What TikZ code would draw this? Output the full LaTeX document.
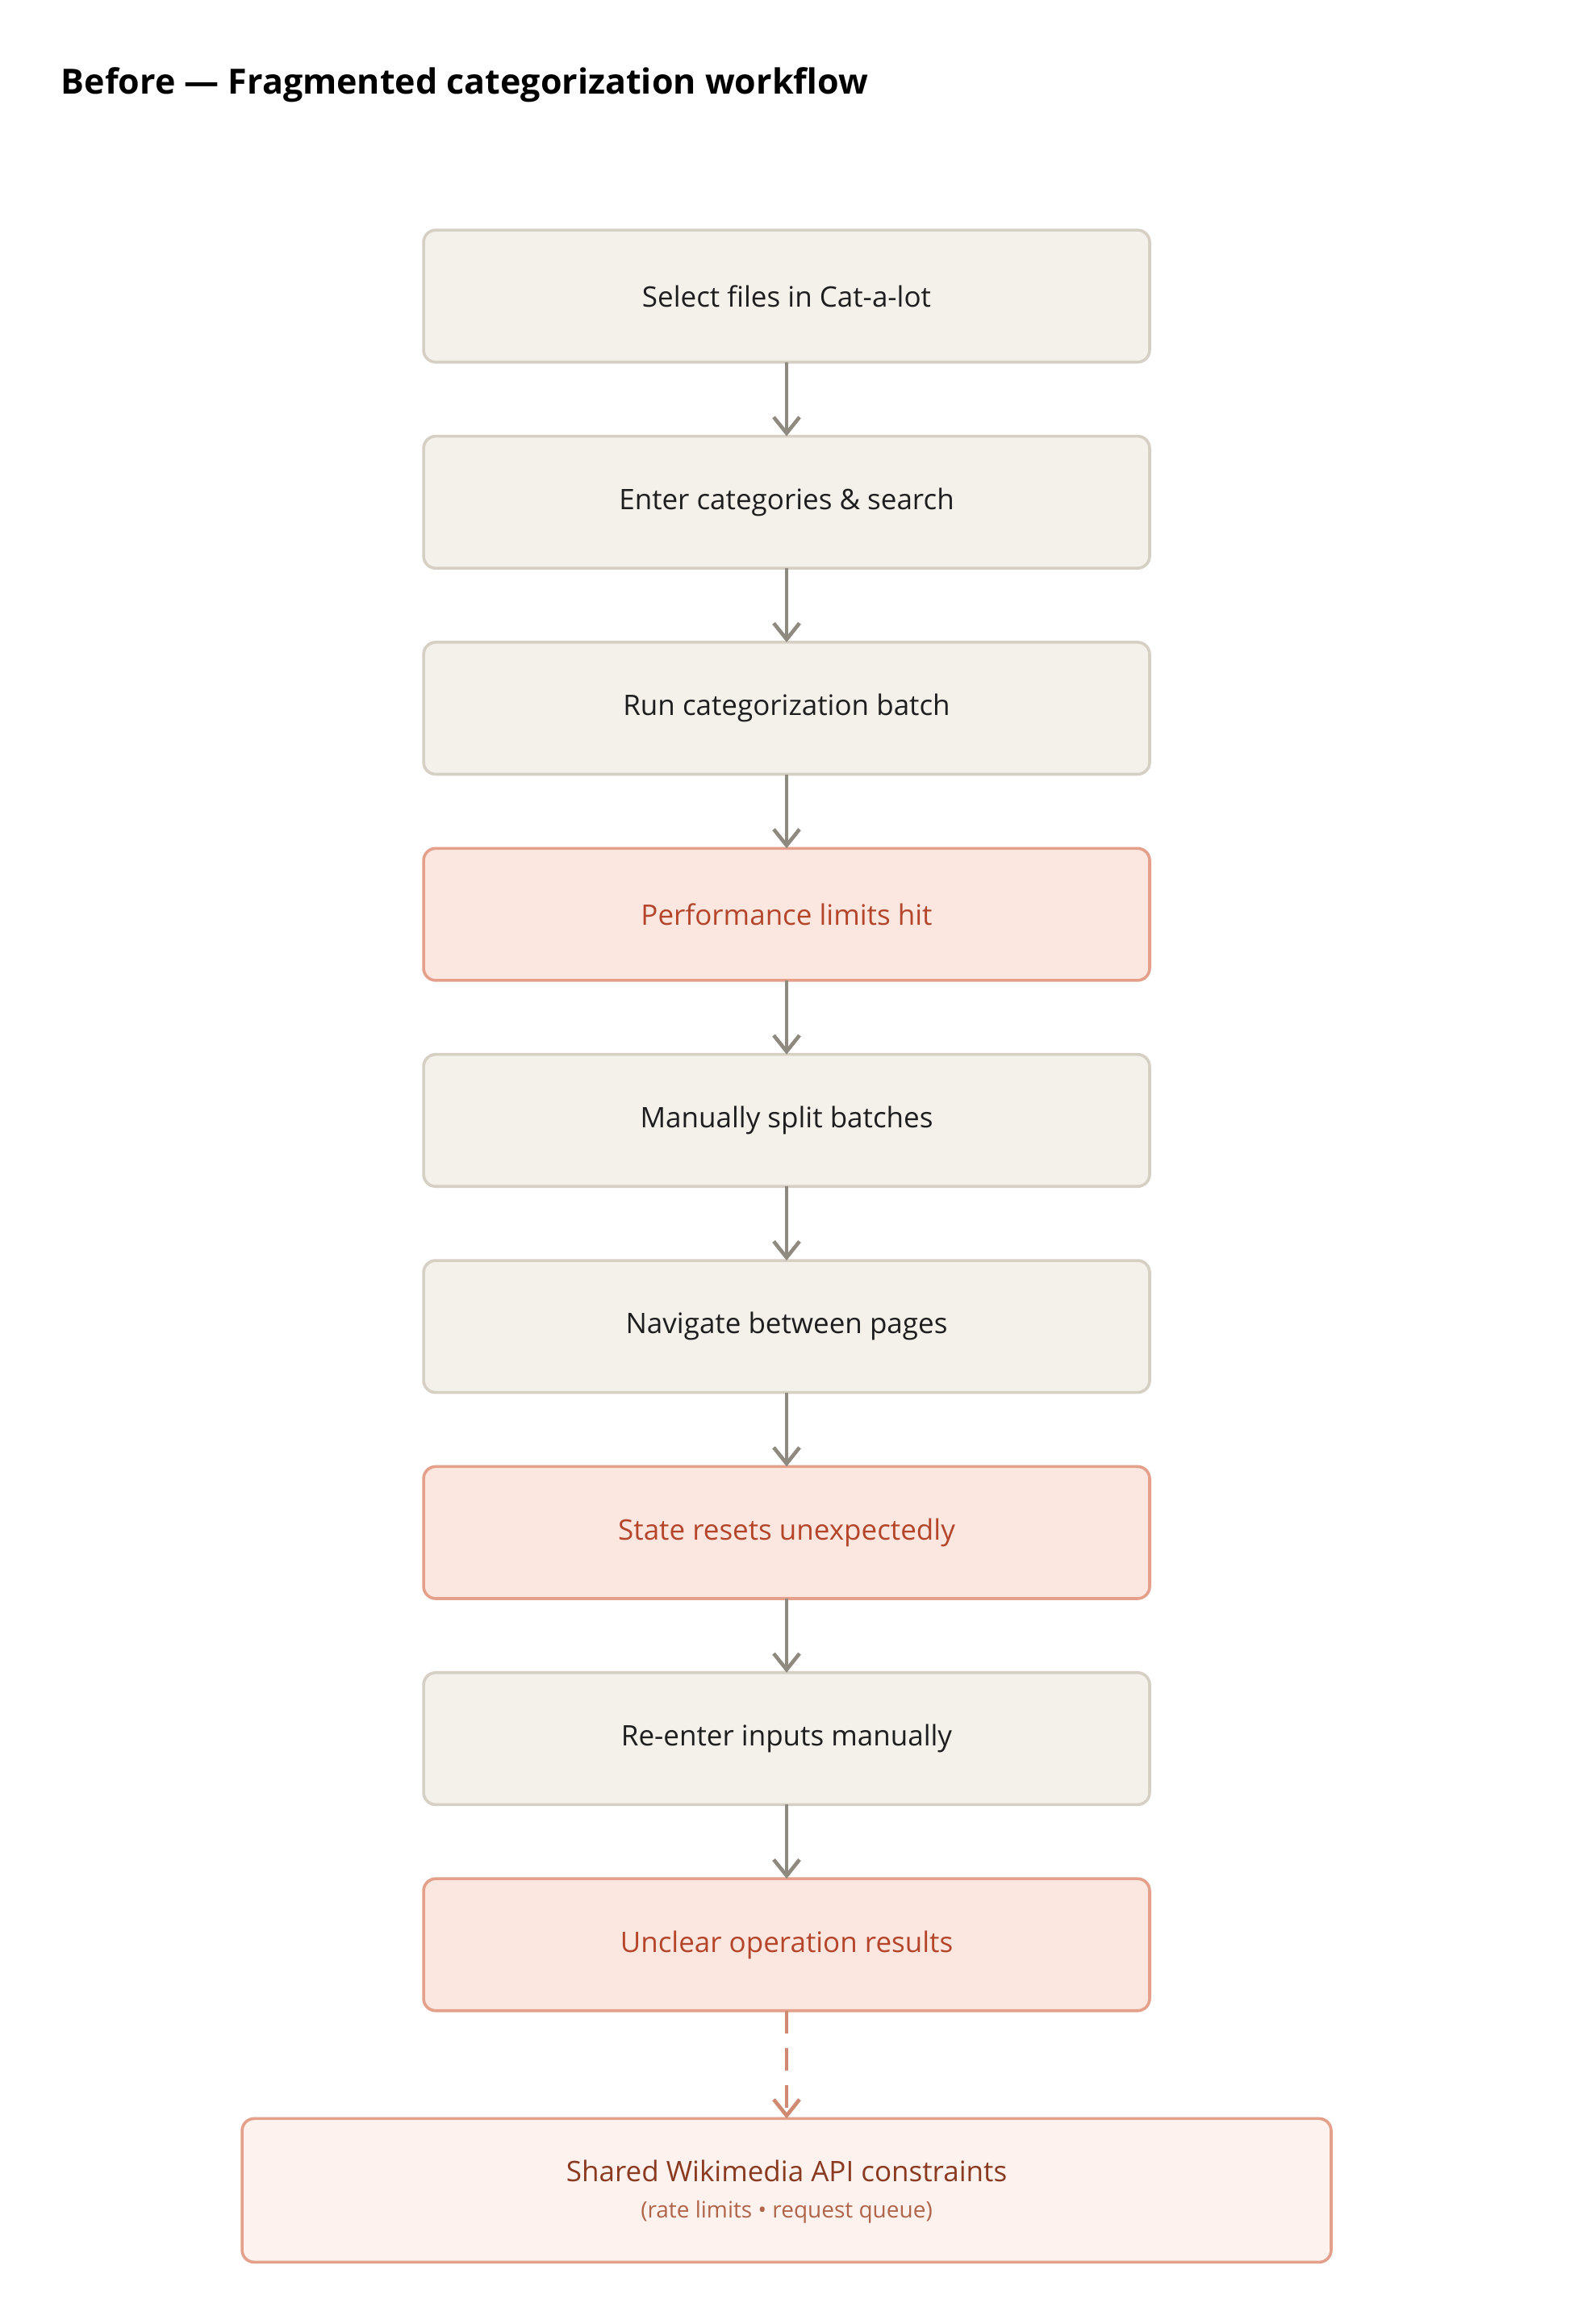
\documentclass[tikz,border=0pt]{standalone}
\usepackage{fontspec}
\setmainfont{Open Sans}
\usetikzlibrary{arrows.meta}
\definecolor{nfill}{HTML}{F4F0EA}
\definecolor{nline}{HTML}{D6CFC4}
\definecolor{rfill}{HTML}{FBE7DF}
\definecolor{rline}{HTML}{E4A08A}
\definecolor{rtext}{HTML}{B5452A}
\definecolor{lfill}{HTML}{FDF2ED}
\definecolor{ltext}{HTML}{8A3A20}
\definecolor{lsub}{HTML}{B0654A}
\definecolor{arr}{HTML}{8F8A80}
\definecolor{darr}{HTML}{D08A72}
\definecolor{ntext}{HTML}{1E1E1E}
\begin{document}
\begin{tikzpicture}[x=0.49pt,y=-0.49pt,
  box/.style={rectangle,rounded corners=7.5pt,line width=1.8pt,draw=nline,fill=nfill,
    minimum width=450pt,minimum height=81.8pt,inner sep=0pt,outer sep=0pt,
    text=ntext,font=\fontsize{17.5}{20}\selectfont},
  warn/.style={box,draw=rline,fill=rfill,text=rtext},
  flow/.style={draw=arr,line width=2.3pt,-{Straight Barb[length=10pt,width=16pt,line width=2.3pt]}},
  dflow/.style={flow,draw=darr,dash pattern=on 14pt off 9pt}]
\useasboundingbox (0,0) rectangle (1990,2939);
\fill[white] (0,0) rectangle (1990,2939);
\node[anchor=west,inner sep=0pt,font=\bfseries\fontsize{21.5}{26}\selectfont] (title) at (77,107) {Before — Fragmented categorization workflow};
\node[box]  (b1) at (995,374.5) {Select files in Cat-a-lot};
\node[box]  (b2) at (995,635.1) {Enter categories \& search};
\node[box]  (b3) at (995,895.7) {Run categorization batch};
\node[warn] (b4) at (995,1156.3) {Performance limits hit};
\node[box]  (b5) at (995,1416.9) {Manually split batches};
\node[box]  (b6) at (995,1677.5) {Navigate between pages};
\node[warn] (b7) at (995,1938.1) {State resets unexpectedly};
\node[box]  (b8) at (995,2198.7) {Re-enter inputs manually};
\node[warn] (b9) at (995,2459.3) {Unclear operation results};
\node[box,draw=rline,fill=lfill,minimum width=675pt,minimum height=89pt] (b10) at (995,2770) {};
\node[text=ltext,font=\fontsize{17.5}{20}\selectfont] (t10) at (995,2745) {Shared Wikimedia API constraints};
\node[text=lsub,font=\fontsize{14}{16}\selectfont] (s10) at (995,2797) {(rate limits • request queue)};
\foreach \a/\b in {b1/b2,b2/b3,b3/b4,b4/b5,b5/b6,b6/b7,b7/b8,b8/b9}
  \draw[flow] (\a.south) -- (\b.north);
\draw[dflow] (b9.south) -- (b10.north);
\end{tikzpicture}
\end{document}
